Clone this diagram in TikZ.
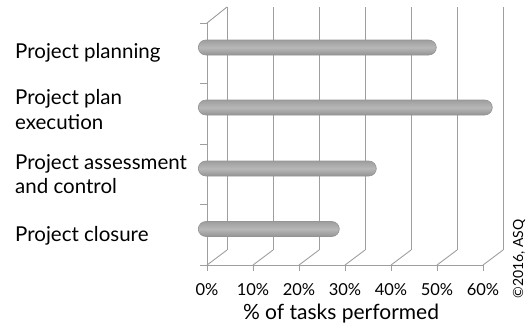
\documentclass[tikz,border=0pt]{standalone}
\usepackage{fontspec}
\setmainfont{Lato}
\begin{document}
\begin{tikzpicture}[x=1pt,y=-1pt,
  grid/.style={draw=black!38,line width=0.9pt},
  lbl/.style={anchor=west,align=left,inner sep=0pt,font=\fontsize{20.5}{24.5}\selectfont},
  tick/.style={anchor=center,inner sep=0pt,font=\fontsize{16.5}{18}\selectfont},
  barshape/.style={draw=black!42,line width=0.6pt,rounded corners=7.5pt,
    top color=black!38,bottom color=black!42,middle color=black!28}]
\useasboundingbox (0,0) rectangle (530,327);
% back wall verticals
\foreach \i in {0,...,6}{
  \draw[grid] ({227+46*\i},7) -- ({227+46*\i},250);
  \draw[grid] ({207+46*\i},265) -- ({227+46*\i},250);
  \draw[grid] ({207+46*\i},265) -- ({207+46*\i},271);
}
% front axis
\draw[grid] (207,265) -- (483,265);
% left wall
\draw[grid] (207,23) -- (207,265);
\draw[grid] (207,23) -- (227,7);
\foreach \y in {23,83.5,144,204.5,265}{
  \draw[grid] (200,\y) -- (207,\y);
}
% bars
\node[barshape,minimum width=238pt,minimum height=15pt,inner sep=0pt,anchor=west] (b1) at (198,47.5) {};
\node[barshape,minimum width=294pt,minimum height=15pt,inner sep=0pt,anchor=west] (b2) at (198,107.5) {};
\node[barshape,minimum width=178pt,minimum height=15pt,inner sep=0pt,anchor=west] (b3) at (198,168.5) {};
\node[barshape,minimum width=141pt,minimum height=15pt,inner sep=0pt,anchor=west] (b4) at (198,229) {};
% category labels
\node[lbl] (l1) at (15,53) {Project planning};
\node[lbl] (l2) at (15,109.5) {Project plan\\execution};
\node[lbl] (l3) at (15,174) {Project assessment\\and control};
\node[lbl] (l4) at (15,236) {Project closure};
% tick labels
\foreach \i/\t in {0/0\%,1/10\%,2/20\%,3/30\%,4/40\%,5/50\%,6/60\%}{
  \node[tick] (t\i) at ({207+46*\i},290) {\t};
}
\node[inner sep=0pt,font=\fontsize{21}{24}\selectfont] (ax) at (341,314) {\% of tasks performed};
\node[inner sep=0pt,rotate=90,font=\fontsize{14}{16}\selectfont] (cp) at (519,259) {©2016, ASQ};
\end{tikzpicture}
\end{document}
